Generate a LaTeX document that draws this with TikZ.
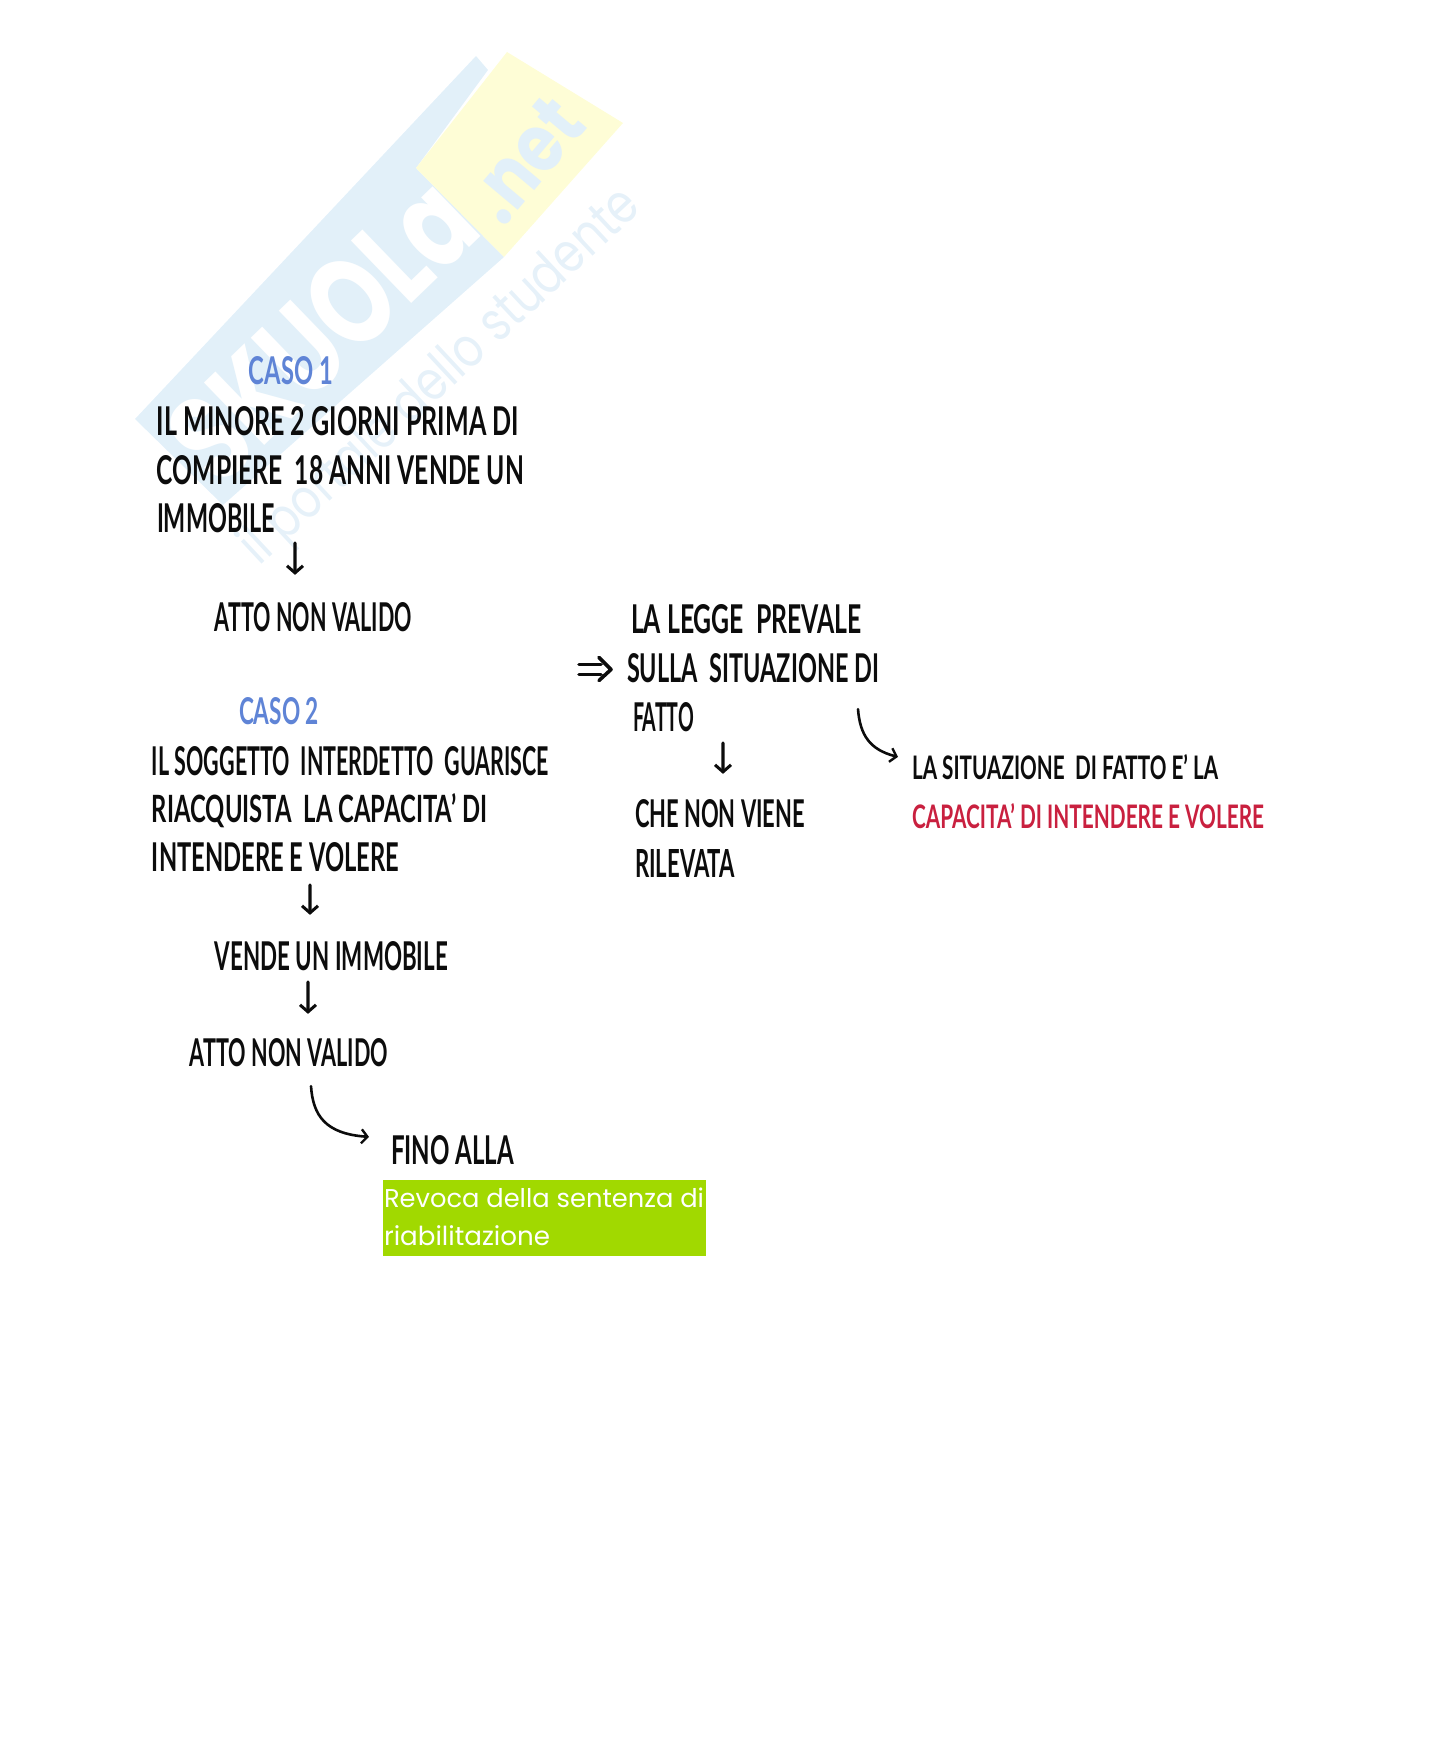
\documentclass[tikz,border=0pt]{standalone}
\usepackage{fontspec}
\usepackage{graphicx}
\setmainfont{Lato}[BoldFont={* Bold}]
\newfontfamily\geo{Poppins}
\usetikzlibrary{arrows.meta,calc}
\definecolor{wmblue}{HTML}{E2F0F9}
\definecolor{wmyellow}{HTML}{FEFDD6}
\definecolor{wmtext}{HTML}{E6F1F9}
\definecolor{caseblue}{HTML}{5F84D6}
\definecolor{alertred}{HTML}{C9203F}
\definecolor{limebox}{HTML}{A1D900}
\definecolor{ink}{HTML}{0C0C0C}
\newcommand{\gap}{\hspace{0.5em}}
% \hw{name}{x0}{y0}{x1}{y1}{colour}{text}
\newcommand{\hw}[7]{%
  \node[hwtext,text=#6] (#1) at ({(#2+#4)/2},{(#3+#5)/2})
    {\resizebox{\fpeval{(#4-#2)*0.5}pt}{\fpeval{(#5-#3)*0.5}pt}{\bfseries #7}};}
\tikzset{
  hwtext/.style={inner sep=0pt,outer sep=0pt,anchor=center},
  arrowdown/.style={draw=ink,line width=1.7pt,line cap=round,-{Straight Barb[length=3.5pt,width=8pt,line width=1.5pt]}},
  arrowcurve/.style={draw=ink,line width=1.3pt,line cap=round,-{Straight Barb[length=3pt,width=7pt,line width=1.2pt]}},
  implies/.style={draw=ink,line width=1.8pt,line cap=round,line join=round},
  wmark/.style={inner sep=0pt,outer sep=0pt,anchor=center},
  revoca/.style={inner sep=0pt,outer sep=0pt,anchor=west,text=white,font=\geo}
}
\begin{document}
\begin{tikzpicture}[x=0.5pt,y=-0.5pt]
\useasboundingbox (0,0) rectangle (1440,1738);
% watermark
\fill[wmblue] (135,419) -- (476,56) -- (488,70) -- (416,168) -- (504,257) -- (223,505) -- cycle;
\fill[wmyellow] (507,52) -- (623,123) -- (504,257) -- (416,168) -- cycle;
\node[wmark,rotate=44,text=white] (wmname) at (322,330) {\resizebox{185pt}{44pt}{\geo\bfseries SKUOLa}};
\node[wmark,rotate=50,text=wmblue] (wmnet) at (525,160) {\resizebox{66pt}{28pt}{\geo\bfseries .net}};
\node[wmark,rotate=43,text=wmtext] (wmtag) at (442,378) {\resizebox{262pt}{21pt}{\geo il portale dello studente}};
% case 1
\hw{casoa}{249}{357}{333}{385}{caseblue}{CASO 1}
\hw{aa}{157}{407}{519}{436}{ink}{IL MINORE 2 GIORNI PRIMA DI}
\hw{ab}{157}{456}{524}{485}{ink}{COMPIERE\gap 18 ANNI VENDE UN}
\hw{ac}{157}{504}{275}{533}{ink}{IMMOBILE}
\hw{ad}{215}{603}{412}{632}{ink}{ATTO NON VALIDO}
% case 2
\hw{casob}{239}{698}{319}{725}{caseblue}{CASO 2}
\hw{ba}{152}{747}{549}{776}{ink}{IL SOGGETTO\gap INTERDETTO\gap GUARISCE}
\hw{bb}{152}{796}{487}{825}{ink}{RIACQUISTA\gap LA CAPACITA' DI}
\hw{bc}{152}{843}{399}{872}{ink}{INTENDERE E VOLERE}
\hw{bd}{215}{942}{448}{971}{ink}{VENDE UN IMMOBILE}
\hw{be}{190}{1039}{388}{1067}{ink}{ATTO NON VALIDO}
\hw{bf}{391}{1136}{514}{1165}{ink}{FINO ALLA}
% green box
\node[fill=limebox,inner sep=0pt,outer sep=0pt,minimum width=161.5pt,minimum height=38pt,anchor=north west] (box) at (383,1180) {};
\node[revoca] (rv1) at (384,1198) {\resizebox{160pt}{!}{Revoca della sentenza di}};
\node[revoca] (rv2) at (384,1236) {\resizebox{83pt}{!}{riabilitazione}};
% right column
\hw{ca}{631}{605}{862}{634}{ink}{LA LEGGE\gap PREVALE}
\hw{cb}{627}{654}{879}{683}{ink}{SULLA\gap SITUAZIONE DI}
\hw{cc}{633}{703}{694}{732}{ink}{FATTO}
\hw{cd}{635}{800}{805}{828}{ink}{CHE NON VIENE}
\hw{ce}{635}{849}{735}{877}{ink}{RILEVATA}
\hw{da}{912}{755}{1218}{780}{ink}{LA SITUAZIONE\gap DI FATTO E' LA}
\hw{db}{912}{804}{1264}{829}{alertred}{CAPACITA' DI INTENDERE E VOLERE}
% connectors
\draw[arrowdown] ([shift={(20,10)}]ac.south east) -- ([shift={(80,-28)}]ad.north west);
\draw[arrowdown] ([shift={(158,13)}]bc.south west) -- ([shift={(95,-27)}]bd.north west);
\draw[arrowdown] ([shift={(93,11)}]bd.south west) -- ([shift={(118,-25)}]be.north west);
\draw[arrowcurve] ([shift={(121,19)}]be.south west) .. controls +(2,29) and +(-44,-3) .. ([shift={(-22,1)}]bf.north west);
\draw[arrowdown] ([shift={(90,11)}]cc.south west) -- ([shift={(88,-26)}]cd.north west);
\draw[arrowcurve] ([shift={(231,26)}]cb.south west) .. controls +(2,26) and +(-28,-7) .. ([shift={(-14,2)}]da.north west);
\draw[implies] ([shift={(-48,-4)}]cb.west) -- ([shift={(-26,-4)}]cb.west);
\draw[implies] ([shift={(-48,6)}]cb.west) -- ([shift={(-26,6)}]cb.west);
\draw[implies] ([shift={(-28,-11)}]cb.west) -- ([shift={(-16,1)}]cb.west) -- ([shift={(-28,12)}]cb.west);
\end{tikzpicture}
\end{document}
